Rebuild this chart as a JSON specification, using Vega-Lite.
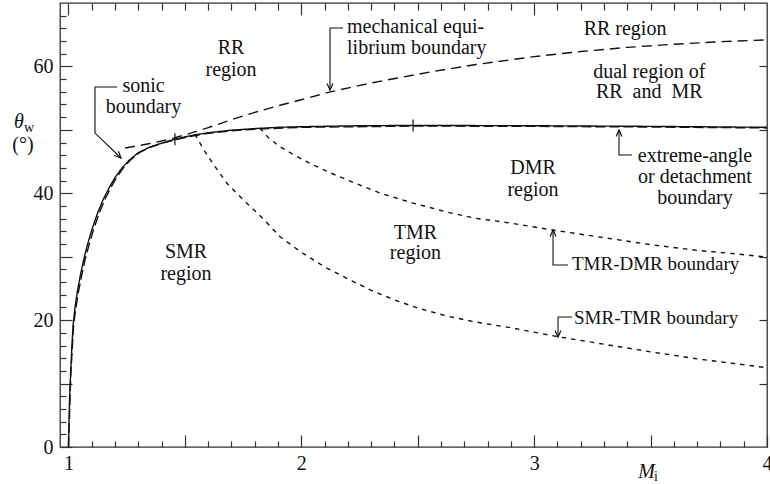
{
  "$schema": "https://vega.github.io/schema/vega-lite/v6.json",
  "width": 707,
  "height": 444,
  "autosize": {"type": "none"},
  "padding": {"left": 60, "top": 3, "right": 3, "bottom": 37},
  "background": "white",
  "config": {
    "view": {"stroke": "#333", "strokeWidth": 1.3},
    "font": "Liberation Serif"
  },
  "datasets": {
    "curves": [
      {"s": "detach", "m": 1.000, "t": 0},
      {"s": "detach", "m": 1.002, "t": 4},
      {"s": "detach", "m": 1.005, "t": 8},
      {"s": "detach", "m": 1.009, "t": 11.5},
      {"s": "detach", "m": 1.014, "t": 15.5},
      {"s": "detach", "m": 1.020, "t": 19.3},
      {"s": "detach", "m": 1.028, "t": 22.0},
      {"s": "detach", "m": 1.038, "t": 24.5},
      {"s": "detach", "m": 1.050, "t": 26.9},
      {"s": "detach", "m": 1.065, "t": 29.5},
      {"s": "detach", "m": 1.080, "t": 31.7},
      {"s": "detach", "m": 1.100, "t": 34.2},
      {"s": "detach", "m": 1.125, "t": 36.9},
      {"s": "detach", "m": 1.150, "t": 39.1},
      {"s": "detach", "m": 1.175, "t": 40.9},
      {"s": "detach", "m": 1.200, "t": 42.5},
      {"s": "detach", "m": 1.230, "t": 44.0},
      {"s": "detach", "m": 1.260, "t": 45.2},
      {"s": "detach", "m": 1.300, "t": 46.4},
      {"s": "detach", "m": 1.350, "t": 47.3},
      {"s": "detach", "m": 1.400, "t": 47.9},
      {"s": "detach", "m": 1.450, "t": 48.45},
      {"s": "detach", "m": 1.500, "t": 48.9},
      {"s": "detach", "m": 1.550, "t": 49.25},
      {"s": "detach", "m": 1.600, "t": 49.55},
      {"s": "detach", "m": 1.700, "t": 49.95},
      {"s": "detach", "m": 1.800, "t": 50.2},
      {"s": "detach", "m": 1.900, "t": 50.4},
      {"s": "detach", "m": 2.000, "t": 50.5},
      {"s": "detach", "m": 2.250, "t": 50.65},
      {"s": "detach", "m": 2.500, "t": 50.7},
      {"s": "detach", "m": 3.000, "t": 50.65},
      {"s": "detach", "m": 3.500, "t": 50.55},
      {"s": "detach", "m": 4.000, "t": 50.4},

      {"s": "sonic", "m": 1.000, "t": 0},
      {"s": "sonic", "m": 1.010, "t": 11.5},
      {"s": "sonic", "m": 1.022, "t": 19.3},
      {"s": "sonic", "m": 1.032, "t": 22.0},
      {"s": "sonic", "m": 1.043, "t": 24.5},
      {"s": "sonic", "m": 1.056, "t": 26.9},
      {"s": "sonic", "m": 1.071, "t": 29.5},
      {"s": "sonic", "m": 1.087, "t": 31.7},
      {"s": "sonic", "m": 1.107, "t": 34.2},
      {"s": "sonic", "m": 1.132, "t": 36.9},
      {"s": "sonic", "m": 1.157, "t": 39.1},
      {"s": "sonic", "m": 1.182, "t": 40.9},
      {"s": "sonic", "m": 1.207, "t": 42.5},
      {"s": "sonic", "m": 1.236, "t": 44.0},
      {"s": "sonic", "m": 1.265, "t": 45.2},
      {"s": "sonic", "m": 1.304, "t": 46.4},
      {"s": "sonic", "m": 1.354, "t": 47.3},
      {"s": "sonic", "m": 1.404, "t": 47.9},
      {"s": "sonic", "m": 1.453, "t": 48.4},
      {"s": "sonic", "m": 1.500, "t": 48.8},
      {"s": "sonic", "m": 1.550, "t": 49.15},
      {"s": "sonic", "m": 1.600, "t": 49.45},
      {"s": "sonic", "m": 1.700, "t": 49.85},
      {"s": "sonic", "m": 1.800, "t": 50.1},
      {"s": "sonic", "m": 2.000, "t": 50.4},
      {"s": "sonic", "m": 2.500, "t": 50.6},
      {"s": "sonic", "m": 3.000, "t": 50.55},
      {"s": "sonic", "m": 3.500, "t": 50.45},
      {"s": "sonic", "m": 4.000, "t": 50.3},

      {"s": "mech", "m": 1.243, "t": 47.14},
      {"s": "mech", "m": 1.300, "t": 47.5},
      {"s": "mech", "m": 1.350, "t": 47.85},
      {"s": "mech", "m": 1.400, "t": 48.25},
      {"s": "mech", "m": 1.450, "t": 48.7},
      {"s": "mech", "m": 1.500, "t": 49.2},
      {"s": "mech", "m": 1.565, "t": 49.95},
      {"s": "mech", "m": 1.600, "t": 50.35},
      {"s": "mech", "m": 1.700, "t": 51.6},
      {"s": "mech", "m": 1.800, "t": 52.75},
      {"s": "mech", "m": 1.900, "t": 53.8},
      {"s": "mech", "m": 2.000, "t": 54.75},
      {"s": "mech", "m": 2.120, "t": 55.95},
      {"s": "mech", "m": 2.300, "t": 57.4},
      {"s": "mech", "m": 2.550, "t": 59.1},
      {"s": "mech", "m": 2.750, "t": 60.3},
      {"s": "mech", "m": 3.000, "t": 61.55},
      {"s": "mech", "m": 3.200, "t": 62.35},
      {"s": "mech", "m": 3.400, "t": 63.0},
      {"s": "mech", "m": 3.600, "t": 63.5},
      {"s": "mech", "m": 3.800, "t": 63.9},
      {"s": "mech", "m": 4.000, "t": 64.2},

      {"s": "smrtmr", "m": 1.543, "t": 49.35},
      {"s": "smrtmr", "m": 1.580, "t": 46.9},
      {"s": "smrtmr", "m": 1.620, "t": 44.7},
      {"s": "smrtmr", "m": 1.680, "t": 41.6},
      {"s": "smrtmr", "m": 1.750, "t": 39.0},
      {"s": "smrtmr", "m": 1.830, "t": 36.2},
      {"s": "smrtmr", "m": 1.910, "t": 33.1},
      {"s": "smrtmr", "m": 2.000, "t": 30.7},
      {"s": "smrtmr", "m": 2.100, "t": 28.4},
      {"s": "smrtmr", "m": 2.200, "t": 26.5},
      {"s": "smrtmr", "m": 2.300, "t": 24.7},
      {"s": "smrtmr", "m": 2.400, "t": 23.2},
      {"s": "smrtmr", "m": 2.500, "t": 21.9},
      {"s": "smrtmr", "m": 2.630, "t": 20.6},
      {"s": "smrtmr", "m": 2.750, "t": 19.7},
      {"s": "smrtmr", "m": 2.900, "t": 18.8},
      {"s": "smrtmr", "m": 3.100, "t": 17.4},
      {"s": "smrtmr", "m": 3.300, "t": 16.2},
      {"s": "smrtmr", "m": 3.500, "t": 15.0},
      {"s": "smrtmr", "m": 3.700, "t": 13.9},
      {"s": "smrtmr", "m": 3.850, "t": 13.2},
      {"s": "smrtmr", "m": 4.000, "t": 12.5},

      {"s": "tmrdmr", "m": 1.822, "t": 50.3},
      {"s": "tmrdmr", "m": 1.860, "t": 48.7},
      {"s": "tmrdmr", "m": 1.910, "t": 47.3},
      {"s": "tmrdmr", "m": 1.980, "t": 45.8},
      {"s": "tmrdmr", "m": 2.050, "t": 44.5},
      {"s": "tmrdmr", "m": 2.120, "t": 43.3},
      {"s": "tmrdmr", "m": 2.200, "t": 42.05},
      {"s": "tmrdmr", "m": 2.340, "t": 40.0},
      {"s": "tmrdmr", "m": 2.480, "t": 38.45},
      {"s": "tmrdmr", "m": 2.630, "t": 37.0},
      {"s": "tmrdmr", "m": 2.750, "t": 36.05},
      {"s": "tmrdmr", "m": 2.900, "t": 35.3},
      {"s": "tmrdmr", "m": 3.080, "t": 34.2},
      {"s": "tmrdmr", "m": 3.300, "t": 33.0},
      {"s": "tmrdmr", "m": 3.500, "t": 31.9},
      {"s": "tmrdmr", "m": 3.700, "t": 31.0},
      {"s": "tmrdmr", "m": 3.850, "t": 30.5},
      {"s": "tmrdmr", "m": 4.000, "t": 29.95}
    ],
    "markers": [
      {"m": 1.457, "t": 48.5},
      {"m": 2.480, "t": 50.7}
    ],
    "leaders": [
      {"id": "sonic", "k": 1, "m": 1.2083, "t": 56.76},
      {"id": "sonic", "k": 2, "m": 1.1138, "t": 56.76},
      {"id": "sonic", "k": 3, "m": 1.1138, "t": 49.5},
      {"id": "sonic", "k": 4, "m": 1.2255, "t": 45.56},
      {"id": "mech", "k": 1, "m": 2.179, "t": 66.06},
      {"id": "mech", "k": 2, "m": 2.1231, "t": 66.06},
      {"id": "mech", "k": 3, "m": 2.1231, "t": 56.28},
      {"id": "ext", "k": 1, "m": 3.4202, "t": 46.04},
      {"id": "ext", "k": 2, "m": 3.3644, "t": 46.04},
      {"id": "ext", "k": 3, "m": 3.3644, "t": 49.98},
      {"id": "td", "k": 1, "m": 3.1454, "t": 28.69},
      {"id": "td", "k": 2, "m": 3.081, "t": 28.69},
      {"id": "td", "k": 3, "m": 3.081, "t": 34.21},
      {"id": "st", "k": 1, "m": 3.1626, "t": 20.5},
      {"id": "st", "k": 2, "m": 3.1025, "t": 20.5},
      {"id": "st", "k": 3, "m": 3.1025, "t": 17.34}
    ],
    "arrows": [
      {"dir": "downright", "m": 1.2255, "t": 45.56},
      {"dir": "down", "m": 2.1231, "t": 56.28},
      {"dir": "up", "m": 3.3644, "t": 49.98},
      {"dir": "up", "m": 3.081, "t": 34.21},
      {"dir": "down", "m": 3.1025, "t": 17.34}
    ],
    "clabels": [
      {"txt": "RR", "m": 1.698, "t": 62.91},
      {"txt": "region", "m": 1.698, "t": 59.44},
      {"txt": "sonic", "m": 1.3221, "t": 56.86},
      {"txt": "boundary", "m": 1.3221, "t": 53.66},
      {"txt": "RR region", "m": 3.3902, "t": 65.9},
      {"txt": "dual region of", "m": 3.4943, "t": 59.12},
      {"txt": "RR\u00a0\u00a0and\u00a0\u00a0MR", "m": 3.4943, "t": 55.97},
      {"txt": "extreme-angle", "m": 3.6908, "t": 45.88},
      {"txt": "or detachment", "m": 3.6908, "t": 42.57},
      {"txt": "boundary", "m": 3.6908, "t": 39.26},
      {"txt": "DMR", "m": 2.995, "t": 43.99},
      {"txt": "region", "m": 2.995, "t": 40.52},
      {"txt": "TMR", "m": 2.49, "t": 33.74},
      {"txt": "region", "m": 2.49, "t": 30.59},
      {"txt": "SMR", "m": 1.5047, "t": 30.74},
      {"txt": "region", "m": 1.5047, "t": 27.28},
      {"txt": "(°)", "m": 0.8046, "t": 47.61}
    ],
    "llabels": [
      {"txt": "mechanical equi-", "m": 2.1962, "t": 66.22},
      {"txt": "librium boundary", "m": 2.1962, "t": 62.91}
    ],
    "llabels2": [
      {"txt": "TMR-DMR boundary", "m": 3.1625, "t": 28.85},
      {"txt": "SMR-TMR boundary", "m": 3.1711, "t": 20.34}
    ],
    "italic": [
      {"txt": "θ", "m": 0.7874, "t": 51.16},
      {"txt": "M", "m": 3.4825, "t": -3.94}
    ],
    "subs": [
      {"txt": "w", "m": 0.8304, "t": 50.37},
      {"txt": "i", "m": 3.5234, "t": -4.73}
    ]
  },
  "resolve": {"axis": {"x": "independent", "y": "independent"}},
  "layer": [
    {
      "data": {"name": "curves"},
      "mark": {"type": "line", "color": "#111", "strokeWidth": 1.4},
      "encoding": {
        "x": {
          "field": "m", "type": "quantitative",
          "scale": {"domain": [0.9635, 4], "nice": false, "zero": false},
          "axis": {
            "orient": "bottom", "title": null, "domain": false, "grid": false,
            "values": [1,1.1,1.2,1.3,1.4,1.5,1.6,1.7,1.8,1.9,2,2.1,2.2,2.3,2.4,2.5,2.6,2.7,2.8,2.9,3,3.1,3.2,3.3,3.4,3.5,3.6,3.7,3.8,3.9,4],
            "tickSize": {"condition": {"test": "abs(datum.value*2 - round(datum.value*2)) < 0.001", "value": -12}, "value": -6},
            "tickColor": "#333", "tickWidth": 1.2,
            "labelExpr": "abs(datum.value - round(datum.value)) < 0.001 ? format(datum.value, 'd') : ''",
            "labelFont": "Liberation Serif", "labelFontSize": 20, "labelColor": "#111",
            "labelPadding": 18, "labelOverlap": false, "labelFlush": false
          }
        },
        "y": {
          "field": "t", "type": "quantitative",
          "scale": {"domain": [0, 70], "nice": false, "zero": false},
          "axis": {
            "orient": "left", "title": null, "domain": false, "grid": false,
            "values": [0,2,4,6,8,10,12,14,16,18,20,22,24,26,28,30,32,34,36,38,40,42,44,46,48,50,52,54,56,58,60,62,64,66,68],
            "tickSize": {"condition": {"test": "datum.value % 10 === 0", "value": -12}, "value": -6},
            "tickColor": "#333", "tickWidth": 1.2,
            "labelExpr": "datum.value % 20 === 0 ? datum.label : ''",
            "labelFont": "Liberation Serif", "labelFontSize": 20, "labelColor": "#111",
            "labelPadding": 19, "labelOverlap": false, "labelFlush": false
          }
        },
        "detail": {"field": "s", "type": "nominal"},
        "order": {"field": "m", "type": "quantitative"},
        "strokeDash": {
          "field": "s", "type": "nominal", "legend": null,
          "scale": {"domain": ["detach", "sonic", "mech", "smrtmr", "tmrdmr"], "range": [[1, 0], [10, 4], [10, 6], [4.5, 5], [4.5, 5]]}
        },
        "strokeWidth": {
          "field": "s", "type": "nominal", "legend": null,
          "scale": {"domain": ["detach", "sonic", "mech", "smrtmr", "tmrdmr"], "range": [1.9, 1.3, 1.4, 1.3, 1.3]}
        }
      }
    },
    {
      "data": {"name": "markers"},
      "mark": {"type": "point", "opacity": 0},
      "encoding": {
        "x": {
          "field": "m", "type": "quantitative",
          "axis": {
            "orient": "top", "title": null, "domain": false, "grid": false, "labels": false,
            "values": [1,1.1,1.2,1.3,1.4,1.5,1.6,1.7,1.8,1.9,2,2.1,2.2,2.3,2.4,2.5,2.6,2.7,2.8,2.9,3,3.1,3.2,3.3,3.4,3.5,3.6,3.7,3.8,3.9],
            "tickSize": {"condition": {"test": "abs(datum.value - round(datum.value)) < 0.001", "value": -12}, "value": -7},
            "tickColor": "#333", "tickWidth": 1.2
          }
        },
        "y": {
          "field": "t", "type": "quantitative",
          "axis": {
            "orient": "right", "title": null, "domain": false, "grid": false, "labels": false,
            "values": [10, 20, 30, 40, 50, 60],
            "tickSize": -8, "tickColor": "#333", "tickWidth": 1.2
          }
        }
      }
    },
    {
      "data": {"name": "markers"},
      "mark": {"type": "point", "shape": "M0,-1L0,1", "filled": false, "stroke": "#111", "strokeWidth": 1.2, "size": 144, "opacity": 1},
      "encoding": {
        "x": {"field": "m", "type": "quantitative", "axis": null},
        "y": {"field": "t", "type": "quantitative", "axis": null}
      }
    },
    {
      "data": {"name": "leaders"},
      "mark": {"type": "line", "color": "#111", "strokeWidth": 1.1},
      "encoding": {
        "x": {"field": "m", "type": "quantitative", "axis": null},
        "y": {"field": "t", "type": "quantitative", "axis": null},
        "detail": {"field": "id", "type": "nominal"},
        "order": {"field": "k", "type": "quantitative"}
      }
    },
    {
      "data": {"name": "arrows"},
      "mark": {"type": "point", "filled": false, "stroke": "#111", "strokeWidth": 1.2, "size": 170, "opacity": 1},
      "encoding": {
        "x": {"field": "m", "type": "quantitative", "axis": null},
        "y": {"field": "t", "type": "quantitative", "axis": null},
        "shape": {
          "field": "dir", "type": "nominal", "legend": null,
          "scale": {"domain": ["down", "up", "downright"], "range": ["M-0.45,-1L0,0L0.45,-1", "M-0.45,1L0,0L0.45,1", "M-1.03,-0.39L0,0L-0.39,-1.03"]}
        }
      }
    },
    {
      "data": {"name": "clabels"},
      "mark": {"type": "text", "font": "Liberation Serif", "fontSize": 20, "align": "center", "baseline": "middle", "color": "#111"},
      "encoding": {
        "x": {"field": "m", "type": "quantitative", "axis": null},
        "y": {"field": "t", "type": "quantitative", "axis": null},
        "text": {"field": "txt"}
      }
    },
    {
      "data": {"name": "llabels"},
      "mark": {"type": "text", "font": "Liberation Serif", "fontSize": 20, "align": "left", "baseline": "middle", "color": "#111"},
      "encoding": {
        "x": {"field": "m", "type": "quantitative", "axis": null},
        "y": {"field": "t", "type": "quantitative", "axis": null},
        "text": {"field": "txt"}
      }
    },
    {
      "data": {"name": "llabels2"},
      "mark": {"type": "text", "font": "Liberation Serif", "fontSize": 19, "align": "left", "baseline": "middle", "color": "#111"},
      "encoding": {
        "x": {"field": "m", "type": "quantitative", "axis": null},
        "y": {"field": "t", "type": "quantitative", "axis": null},
        "text": {"field": "txt"}
      }
    },
    {
      "data": {"name": "italic"},
      "mark": {"type": "text", "font": "Liberation Serif", "fontSize": 20, "fontStyle": "italic", "align": "center", "baseline": "middle", "color": "#111"},
      "encoding": {
        "x": {"field": "m", "type": "quantitative", "axis": null},
        "y": {"field": "t", "type": "quantitative", "axis": null},
        "text": {"field": "txt"}
      }
    },
    {
      "data": {"name": "subs"},
      "mark": {"type": "text", "font": "Liberation Serif", "fontSize": 14, "align": "center", "baseline": "middle", "color": "#111"},
      "encoding": {
        "x": {"field": "m", "type": "quantitative", "axis": null},
        "y": {"field": "t", "type": "quantitative", "axis": null},
        "text": {"field": "txt"}
      }
    }
  ]
}
